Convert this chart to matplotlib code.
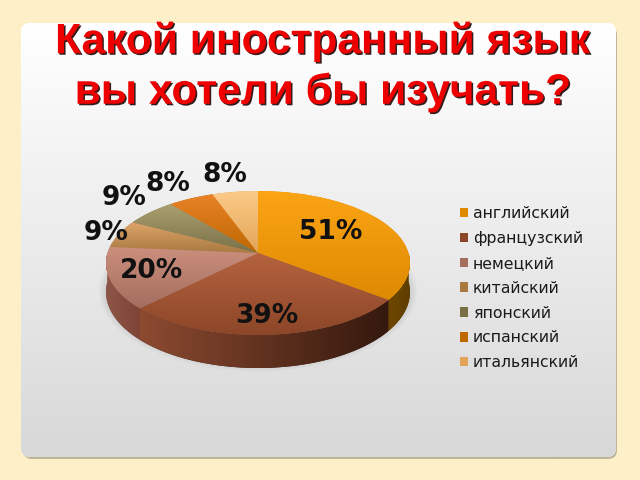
import numpy as np
import matplotlib
matplotlib.use("Agg")
import matplotlib.pyplot as plt
import matplotlib.patheffects as pe
from matplotlib import transforms as mtransforms
from matplotlib.patches import FancyBboxPatch, Polygon
from matplotlib.colors import to_rgb

# data
title = "Какой иностранный язык\nвы хотели бы изучать?"
languages = ["английский", "французский", "немецкий", "китайский", "японский", "испанский", "итальянский"]
percents = [51, 39, 20, 9, 9, 8, 8]

# light / dark ends of the slice gradients
top_light = ["#FBA414", "#B5633F", "#CC8F7E", "#DDA468", "#ABA070", "#E88228", "#FCCB88"]
top_dark = ["#DE8A02", "#8C4628", "#A46E5E", "#A87A42", "#7A7048", "#BE6800", "#E2A456"]
wall_light = ["#6E4800", "#8C4A30", "#8E5648", "#8C5A30", "#665E38", "#9A5500", "#B08040"]
wall_dark = ["#5E3E00", "#35190E", "#7E4436", "#6C4624", "#544C2C", "#804600", "#90683A"]

cx, cy = 258, 253
rx, ry = 150.5, 70.6
tilt_k = 0.139
depth = 28.4


class Tilt(mtransforms.Transform):
    # unit circle -> squashed pie in pixels, far side smaller
    input_dims = 2
    output_dims = 2
    has_inverse = False
    is_separable = False

    def transform_non_affine(self, xy):
        xy = np.asarray(xy, dtype=float)
        d = 1 + tilt_k * xy[:, 1]
        return np.column_stack([cx + rx * xy[:, 0] / d, cy - ry * xy[:, 1] / d])


def gradient(ax, c1, c2, box, clip, vertical=True, z=4):
    c1, c2 = np.array(to_rgb(c1)), np.array(to_rgb(c2))
    t = np.linspace(0, 1, 64)[:, None]
    row = c1 * (1 - t) + c2 * t
    arr = row[:, None, :] if vertical else row[None, :, :]
    x0, x1, y0, y1 = box
    im = ax.imshow(arr, extent=(x0, x1, y1, y0), aspect="auto", zorder=z, interpolation="bilinear")
    im.set_clip_path(clip)
    return im


fig = plt.figure(figsize=(6.4, 4.8), dpi=100, facecolor="#FDEFC8")
ax = fig.add_axes([0, 0, 1, 1])

wedges, _ = ax.pie(percents, startangle=90, counterclock=False, colors=top_light)
ax.set_aspect("auto")
ax.set_frame_on(False)
tilt = Tilt()

# slide panel
shadow = FancyBboxPatch((23, 26), 594, 433, boxstyle="round,pad=0,rounding_size=9",
                        fc="#BDB59A", ec="none", zorder=0.5)
ax.add_patch(shadow)
panel = FancyBboxPatch((21, 23), 595, 434, boxstyle="round,pad=0,rounding_size=9",
                       fc="white", ec="none", zorder=0.6)
ax.add_patch(panel)
gradient(ax, "#FFFFFF", "#D8D8D8", (21, 616, 23, 457), panel, z=0.7)

# soft shadow under the pie
ang = np.radians(np.linspace(0, 360, 200))
for grow in np.linspace(8, 1, 8):
    ring = np.column_stack([cx + (rx + 1 + grow) * np.cos(ang), cy + 38 + (ry + 2 + grow) * np.sin(ang)])
    ax.add_patch(Polygon(ring, closed=True, fc="black", ec="none", alpha=0.012, zorder=1))

# side wall of the pie, front half only
for i, w in enumerate(wedges):
    a0, a1 = max(w.theta1, -180), min(w.theta2, 0)
    if a0 >= a1:
        continue
    ang = np.radians(np.linspace(a0, a1, 80))
    rim = tilt.transform_non_affine(np.column_stack([np.cos(ang), np.sin(ang)]))
    drop = depth / (1 + tilt_k * np.sin(ang))
    lower = rim + np.column_stack([np.zeros_like(drop), drop])
    pts = np.vstack([rim, lower[::-1]])
    poly = Polygon(pts, closed=True, fc=wall_dark[i], ec="none", zorder=2)
    ax.add_patch(poly)
    box = (pts[:, 0].min(), pts[:, 0].max(), pts[:, 1].min(), pts[:, 1].max())
    gradient(ax, wall_light[i], wall_dark[i], box, poly, vertical=False, z=2.5)

# top face of the pie
for i, w in enumerate(wedges):
    w.set_transform(tilt + ax.transData)
    w.set_facecolor(top_dark[i])
    w.set_edgecolor("none")
    w.set_zorder(3)
    v = tilt.transform_non_affine(w.get_path().vertices)
    box = (v[:, 0].min(), v[:, 0].max(), v[:, 1].min(), v[:, 1].max())
    gradient(ax, top_light[i], top_dark[i], box, w, z=4)

# percent labels
label_xy = [(331, 232), (267, 316), (151, 271), (106, 233), (124, 198), (168, 184), (225, 175)]
for p, (x, y) in zip(percents, label_xy):
    ax.text(x, y, f"{p}%", ha="center", va="center", fontsize=19, fontweight="bold",
            color="#111111", family="DejaVu Sans", zorder=8)

ax.text(323, 67, title, ha="center", va="center", fontsize=30.6, fontweight="bold", color="#EE0000",
        family="Liberation Sans", linespacing=1.3, zorder=9,
        path_effects=[pe.withSimplePatchShadow(offset=(1.1, -1.1), shadow_rgbFace="#2A1010", alpha=0.95)])

leg = ax.legend(wedges, languages, loc="upper left", bbox_to_anchor=(460, 206), bbox_transform=ax.transData,
                frameon=False, fontsize=11.3, handlelength=0.54, handleheight=0.54, handletextpad=0.28,
                labelspacing=0.63, borderpad=0, borderaxespad=0, labelcolor="#1A1A1A")
leg.set_zorder(8)

ax.set_xlim(0, 640)
ax.set_ylim(480, 0)
ax.set_xticks([])
ax.set_yticks([])
fig.savefig("out.png", dpi=100, facecolor=fig.get_facecolor())
